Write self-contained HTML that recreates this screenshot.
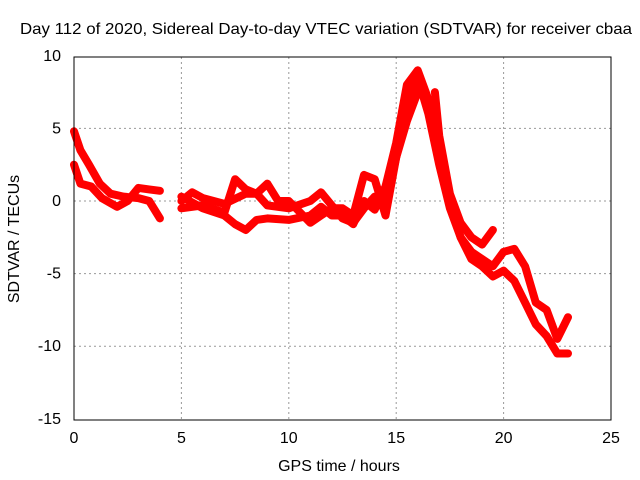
<!DOCTYPE html>
<html><head><meta charset="utf-8"><style>
body{margin:0;background:#fff}
svg{display:block;font-family:"Liberation Sans",sans-serif}
</style></head><body>
<svg id="chart" width="640" height="480" viewBox="0 0 640 480">
<rect width="640" height="480" fill="#fff"/>
<text x="20" y="34" font-size="16" textLength="612" lengthAdjust="spacingAndGlyphs">Day 112 of 2020, Sidereal Day-to-day VTEC variation (SDTVAR) for receiver cbaa</text>
<g id="grid"></g>
<g id="series"></g>
<rect x="74" y="57" width="537" height="363" fill="none" stroke="#000" stroke-width="1"/>
<g id="ticks"></g>
<text x="339" y="471" font-size="16" text-anchor="middle">GPS time / hours</text>
<text transform="translate(19,239) rotate(-90)" font-size="16" text-anchor="middle">SDTVAR / TECUs</text>
</svg>
<script>
const xTicks=[0,5,10,15,20,25];
const yTicks=[10,5,0,-5,-10,-15];
const s1x=[0,0.3,0.7,1.2,1.7,2.3,3,3.5,4];
const s1y=[4.8,3.5,2.5,1.2,0.5,0.3,0.2,0,-1.2];
const s2x=[0,0.3,0.8,1.3,2,2.5,3,3.5,4];
const s2y=[2.5,1.2,1,0.2,-0.4,0,0.9,0.8,0.7];
const s3x=[5,5.5,6,7,8,8.5,9,10,11,11.5,12,12.5,13,13.5,14,14.5,15,15.5,16,16.5,17,17.5,18,18.5,19,19.5,20,20.5,21,21.5,22,22.5,23];
const s3y=[0,0.6,0.2,-0.2,0.5,0.5,-0.3,-0.5,0,0.6,-0.3,-1.2,-1.5,-0.5,0.3,-0.3,3,7,8.5,6,2.5,-0.5,-2.5,-4,-4.5,-5.2,-4.8,-5.5,-7,-8.5,-9.3,-10.5,-10.5];
const s4x=[5,6,7,7.5,8,8.5,9,10,11,11.5,12,12.5,13,13.5,14,14.5,15,15.5,16,16.5,17,17.5,18,18.5,19,19.5,20,20.5,21,21.5,22,22.5,23];
const s4y=[0.3,-0.5,-1,-1.6,-2,-1.3,-1.2,-1.3,-1,-0.4,-1,-1,-1.6,0,-0.6,1,4,8,9,7,3.5,0,-2.5,-3.5,-4,-4.5,-3.5,-3.3,-4.5,-7,-7.5,-9.5,-8];
const s5x=[5,6,7,7.5,8,8.5,9,9.5,10,11,11.5,12,12.5,13,13.5,14,14.5,15,15.5,16];
const s5y=[-0.5,-0.3,-0.8,1.5,0.8,0.5,1.2,0,0,-1.5,-1,-0.5,-0.5,-1,1.8,1.5,-1,3,5.5,7.5];
const s6x=[16.8,17,17.5,18,18.5,19,19.5];
const s6y=[7.5,4.5,0.5,-1.5,-2.5,-3,-2];
const X=v=>74+v*537/25, Y=v=>201-v*14.52;
const NS="http://www.w3.org/2000/svg";
const grid=document.getElementById('grid'),ticks=document.getElementById('ticks'),ser=document.getElementById('series');
function mk(tag,at,parent){const e=document.createElementNS(NS,tag);for(const k in at)e.setAttribute(k,at[k]);parent.appendChild(e);return e;}
xTicks.forEach(t=>{
  if(t>0&&t<25){const g=mk('line',{x1:X(t),x2:X(t),y1:57,y2:420,stroke:'#999','stroke-dasharray':'2,3'},grid);
  
  }
  const l=mk('text',{x:X(t),y:443,'font-size':16,'text-anchor':'middle'},ticks);l.textContent=t;
  
  
});
yTicks.forEach(t=>{
  if(t<10&&t>-15){const g=mk('line',{x1:74,x2:611,y1:Y(t),y2:Y(t),stroke:'#999','stroke-dasharray':'2,3'},grid);
  
  }
  const l=mk('text',{x:61,y:Y(t)+5,'font-size':16,'text-anchor':'end'},ticks);l.textContent=t;
  
  
});
[[s1x,s1y],[s2x,s2y],[s3x,s3y],[s4x,s4y],[s5x,s5y],[s6x,s6y]].forEach((s,i)=>{
  const pts=s[0].map((x,j)=>X(x).toFixed(1)+','+Y(s[1][j]).toFixed(1)).join(' ');
  const p=mk('polyline',{points:pts,fill:'none',stroke:'#f00','stroke-width':8,'stroke-linejoin':'round','stroke-linecap':'round'},ser);
  
  
});
</script>
</body></html>
